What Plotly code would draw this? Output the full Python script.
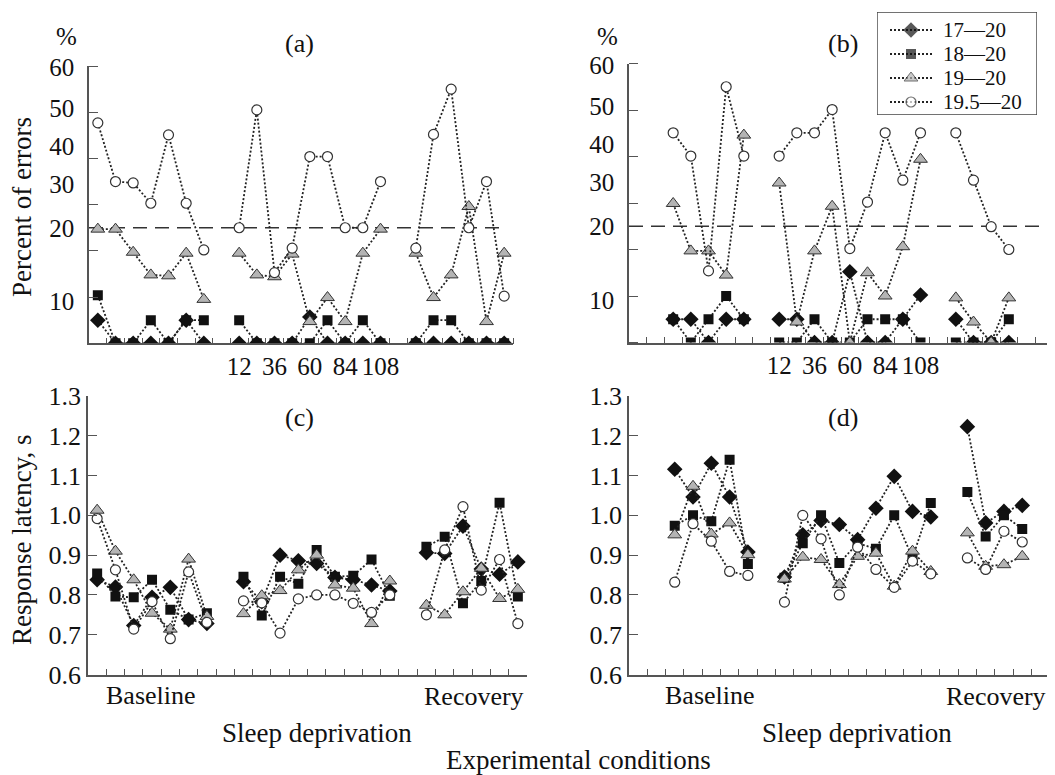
import plotly.graph_objects as go

W, H = 1055, 775
FONT = "Liberation Serif"

# ---------------- categories ----------------
SERIES = ["17—20", "18—20", "19—20", "19.5—20"]
base_sessions_ac = [1, 2, 3, 4, 5, 6, 7]
base_sessions_bd = [3, 4, 5, 6, 7]
dep_hours = [12, 24, 36, 48, 60, 72, 84, 96, 108]
dep_hour_labels = [12, 36, 60, 84, 108]
rec_sessions_ac = [1, 2, 3, 4, 5, 6]
rec_sessions_bd = [1, 2, 3, 4]

# error axis (non-uniform labelling)
err_tick_text = ["10", "20", "30", "40", "50", "60"]
err_tick_at = [9.0, 25.0, 34.5, 42.6, 50.9, 59.7]
err_criterion = 25.0          # dashed line drawn at the "20" label
err_marks = [0, 10, 20, 30, 40, 50, 60]
lat_ticks = [0.6, 0.7, 0.8, 0.9, 1.0, 1.1, 1.2, 1.3]

# ---------------- panel (a): percent of errors, group 1 ----------------
a_17_base = [5, 0, 0, 0, 0, 5, 0]
a_18_base = [10.4, 0, 0, 5, 0, 5, 5]
a_19_base = [24.7, 24.7, 19.7, 14.8, 14.6, 19.5, 9.5]
a_195_base = [47.7, 35.0, 34.7, 30.3, 45.1, 30.3, 20.2]
a_17_dep = [0, 0, 0, 0, 5.7, 0, 0, 0, 0]
a_18_dep = [5, 0, 0, 0, 0, 5, 0, 5, 0]
a_19_dep = [19.5, 14.8, 14.4, 19.3, 4.7, 9.9, 4.7, 19.5, 24.7]
a_195_dep = [25.0, 50.5, 15.3, 20.6, 40.4, 40.4, 25.0, 25.0, 35.0]
a_17_rec = [0, 0, 0, 0, 0, 0]
a_18_rec = [0, 5, 5, 0, 0, 0]
a_19_rec = [19.5, 9.9, 14.8, 29.6, 4.7, 19.5]
a_195_rec = [20.6, 45.2, 55.0, 25.0, 35.0, 10.2]

# ---------------- panel (b): percent of errors, group 2 ----------------
b_17_base = [5, 5, 0, 5, 5]
b_18_base = [5, 0, 5, 10, 5]
b_19_base = [29.9, 19.7, 19.7, 14.5, 44.6]
b_195_base = [45.1, 40.1, 15.4, 55.0, 40.1]
b_17_dep = [5, 5, 0, 0, 15.2, 0, 0, 5, 10.2]
b_18_dep = [0, 0, 5, 0, 0, 5, 5, 5, 0]
b_19_dep = [34.3, 4.4, 19.7, 29.3, 0, 15.0, 10.0, 20.6, 39.4]
b_195_dep = [40.1, 45.1, 45.1, 50.1, 20.2, 30.2, 45.1, 34.9, 45.1]
b_17_rec = [5, 0, 0, 0]
b_18_rec = [0, 0, 0, 5]
b_19_rec = [9.6, 4.4, 0, 9.6]
b_195_rec = [45.1, 34.9, 24.9, 20.0]

# ---------------- panel (c): response latency, group 1 ----------------
c_17_base = [0.838, 0.820, 0.723, 0.794, 0.819, 0.738, 0.728]
c_18_base = [0.854, 0.796, 0.794, 0.838, 0.763, 0.738, 0.754]
c_19_base = [1.013, 0.910, 0.838, 0.754, 0.714, 0.890, 0.746]
c_195_base = [0.992, 0.863, 0.714, 0.783, 0.690, 0.858, 0.731]
c_17_dep = [0.833, 0.783, 0.900, 0.886, 0.879, 0.844, 0.838, 0.825, 0.810]
c_18_dep = [0.846, 0.748, 0.846, 0.828, 0.913, 0.846, 0.848, 0.889, 0.798]
c_19_dep = [0.753, 0.798, 0.811, 0.863, 0.900, 0.825, 0.817, 0.728, 0.835]
c_195_dep = [0.785, 0.780, 0.704, 0.790, 0.800, 0.800, 0.779, 0.756, 0.800]
c_17_rec = [0.906, 0.904, 0.973, 0.865, 0.852, 0.883]
c_18_rec = [0.921, 0.946, 0.779, 0.835, 1.032, 0.796]
c_19_rec = [0.774, 0.750, 0.808, 0.867, 0.791, 0.814]
c_195_rec = [0.750, 0.913, 1.022, 0.812, 0.889, 0.728]

# ---------------- panel (d): response latency, group 2 ----------------
d_17_base = [1.116, 1.046, 1.131, 1.046, 0.908]
d_18_base = [0.974, 1.000, 0.985, 1.140, 0.878]
d_19_base = [0.951, 1.073, 0.953, 0.981, 0.901]
d_195_base = [0.832, 0.979, 0.935, 0.859, 0.849]
d_17_dep = [0.845, 0.951, 0.987, 0.977, 0.939, 1.018, 1.098, 1.010, 0.996]
d_18_dep = [0.843, 0.930, 1.000, 0.880, 0.930, 0.916, 1.000, 0.893, 1.031]
d_19_dep = [0.840, 0.895, 0.889, 0.826, 0.897, 0.905, 0.822, 0.910, 0.859]
d_195_dep = [0.782, 1.000, 0.941, 0.800, 0.920, 0.864, 0.819, 0.885, 0.853]
d_17_rec = [1.223, 0.981, 1.010, 1.025]
d_18_rec = [1.059, 0.947, 1.000, 0.966]
d_19_rec = [0.956, 0.872, 0.876, 0.897]
d_195_rec = [0.893, 0.864, 0.960, 0.933]

panels = {
    "a": (base_sessions_ac, rec_sessions_ac,
          [(a_17_base, a_17_dep, a_17_rec), (a_18_base, a_18_dep, a_18_rec),
           (a_19_base, a_19_dep, a_19_rec), (a_195_base, a_195_dep, a_195_rec)]),
    "b": (base_sessions_bd, rec_sessions_bd,
          [(b_17_base, b_17_dep, b_17_rec), (b_18_base, b_18_dep, b_18_rec),
           (b_19_base, b_19_dep, b_19_rec), (b_195_base, b_195_dep, b_195_rec)]),
    "c": (base_sessions_ac, rec_sessions_ac,
          [(c_17_base, c_17_dep, c_17_rec), (c_18_base, c_18_dep, c_18_rec),
           (c_19_base, c_19_dep, c_19_rec), (c_195_base, c_195_dep, c_195_rec)]),
    "d": (base_sessions_bd, rec_sessions_bd,
          [(d_17_base, d_17_dep, d_17_rec), (d_18_base, d_18_dep, d_18_rec),
           (d_19_base, d_19_dep, d_19_rec), (d_195_base, d_195_dep, d_195_rec)]),
}
axis_ids = {"a": ("x", "y"), "b": ("x2", "y2"), "c": ("x3", "y3"), "d": ("x4", "y4")}


def base_x(s):
    return s - 0.5


def dep_x(h):
    return 7.5 + h / 12


def rec_x(r):
    return 17.5 + r


LINE = dict(color="#222222", width=1.8, dash="2px,2px")
MARKERS = [
    dict(symbol="diamond", size=12, color="#111111", line=dict(width=0)),
    dict(symbol="square", size=10, color="#111111", line=dict(width=0)),
    dict(symbol="triangle-up", size=12, color="#b4b4b4", line=dict(width=1, color="#333333")),
    dict(symbol="circle", size=10, color="white", line=dict(width=1.2, color="#333333")),
]

fig = go.Figure()
for key, (bses, rses, series) in panels.items():
    xa, ya = axis_ids[key]
    for k, (vb, vd, vr) in enumerate(series):
        xs = [base_x(s) for s in bses] + [None] + [dep_x(h) for h in dep_hours] + [None] + [rec_x(r) for r in rses]
        ys = list(vb) + [None] + list(vd) + [None] + list(vr)
        fig.add_trace(go.Scatter(x=xs, y=ys, mode="lines+markers", name=SERIES[k],
                                 line=LINE, marker=MARKERS[k], xaxis=xa, yaxis=ya,
                                 showlegend=False, connectgaps=False))

AX = "#555555"
OX, OY = 8, 8   # page offset of the figure inside the browser window


def px(x):
    return (x - OX) / W


def py(y):
    return 1 - (y - OY) / H


top_x_common = dict(range=[0, 24], showline=True, linecolor=AX, linewidth=1.5, showgrid=False,
                    zeroline=False, tickmode="array",
                    tickvals=[dep_x(h) for h in dep_hour_labels],
                    ticktext=[str(h) for h in dep_hour_labels], ticks="",
                    tickfont=dict(family=FONT, size=25, color="#111"),
                    minor=dict(tickmode="array", tickvals=list(range(1, 25)), ticks="inside",
                               ticklen=6, tickcolor=AX, tickwidth=1.2, showgrid=False))
top_y_common = dict(range=[0, 60], showline=True, linecolor=AX, linewidth=1.5, showgrid=False,
                    zeroline=False, tickmode="array", tickvals=err_tick_at, ticktext=err_tick_text,
                    ticks="", ticklabelstandoff=8,
                    tickfont=dict(family=FONT, size=25, color="#111"),
                    minor=dict(tickmode="array", tickvals=err_marks, ticks="inside", ticklen=9,
                               tickcolor=AX, tickwidth=1.2, showgrid=False))
bot_x_common = dict(showline=True, linecolor=AX, linewidth=1.5, showgrid=False, zeroline=False,
                    tickmode="array", tickvals=list(range(1, 25)), ticks="inside", ticklen=6,
                    tickcolor=AX, tickwidth=1.2, showticklabels=False)
bot_y_common = dict(range=[0.6, 1.3], showline=True, linecolor=AX, linewidth=1.5, showgrid=False,
                    zeroline=False, tickmode="array", tickvals=lat_ticks,
                    ticktext=[f"{v:.1f}" for v in lat_ticks], ticks="inside", ticklen=9,
                    tickcolor=AX, tickwidth=1.2,
                    tickfont=dict(family=FONT, size=26, color="#111"))

fig.update_layout(
    width=W, height=H, margin=dict(l=0, r=0, t=0, b=0, pad=0, autoexpand=False),
    paper_bgcolor="white", plot_bgcolor="rgba(0,0,0,0)", showlegend=False,
    xaxis=dict(domain=[px(89), px(513)], anchor="y", **top_x_common),
    yaxis=dict(domain=[py(343.3), py(66)], anchor="x", **top_y_common),
    xaxis2=dict(domain=[px(629), px(1053)], anchor="y2", **top_x_common),
    yaxis2=dict(domain=[py(342.5), py(63.5)], anchor="x2", **top_y_common),
    xaxis3=dict(domain=[px(88), px(527)], anchor="y3", range=[0, 24], **bot_x_common),
    yaxis3=dict(domain=[py(674.5), py(396)], anchor="x3", **bot_y_common),
    xaxis4=dict(domain=[px(629), px(1055)], anchor="y4", range=[0, (1055 - 629) / 18.29], **bot_x_common),
    yaxis4=dict(domain=[py(674.5), py(396)], anchor="x4", **bot_y_common),
    # legend box coordinate system (pixel-like units)
    xaxis5=dict(domain=[px(877), px(1037)], anchor="y5", range=[877, 1037], visible=False),
    yaxis5=dict(domain=[py(115), py(12)], anchor="x5", range=[115, 12], visible=False),
)

# criterion dashed lines
for xa, ya, xend in [("x", "y", 23.4), ("x2", "y2", 23.4)]:
    fig.add_shape(type="line", xref=xa, yref=ya, x0=0, x1=xend, y0=err_criterion, y1=err_criterion,
                  line=dict(color="#333333", width=1.6, dash="14px,8px"), layer="below")

# legend (drawn as a box of samples)
fig.add_shape(type="rect", xref="x5", yref="y5", x0=877, x1=1037, y0=12, y1=115,
              line=dict(color="#444444", width=1.4), fillcolor="white", layer="below")
legend_rows = [30, 54, 78, 102]
for k, name in enumerate(SERIES):
    yk = legend_rows[k]
    m = dict(MARKERS[k])
    m["size"] = [0, MARKERS[k]["size"], 0]
    fig.add_trace(go.Scatter(x=[890, 911, 932], y=[yk, yk, yk], mode="lines+markers", line=LINE,
                             marker=m, xaxis="x5", yaxis="y5", showlegend=False, hoverinfo="skip"))
    fig.add_annotation(x=942, y=yk, xref="x5", yref="y5", text=name, showarrow=False,
                       xanchor="left", yanchor="middle", borderpad=0,
                       font=dict(family=FONT, size=21, color="#111"))

TXT = dict(family=FONT, color="#111")


def note(x, y, text, size=26, angle=0):
    fig.add_annotation(x=px(x), y=py(y), xref="paper", yref="paper", text=text, showarrow=False,
                       xanchor="center", yanchor="middle", textangle=angle,
                       font=dict(size=size, **TXT))


note(66, 36, "%", 25)
note(607, 36, "%", 25)
note(299, 43, "(a)", 26)
note(843, 43, "(b)", 26)
note(299, 417, "(c)", 26)
note(843, 417, "(d)", 26)
note(22, 207, "Percent of errors", 27, -90)
note(22, 540, "Response latency, s", 27, -90)
note(151, 695, "Baseline", 26)
note(710, 695, "Baseline", 26)
note(474, 696, "Recovery", 26)
note(996, 696, "Recovery", 26)
note(317, 733, "Sleep deprivation", 27)
note(857, 733, "Sleep deprivation", 27)
note(578, 760, "Experimental conditions", 27)

fig.write_html("out.html")
